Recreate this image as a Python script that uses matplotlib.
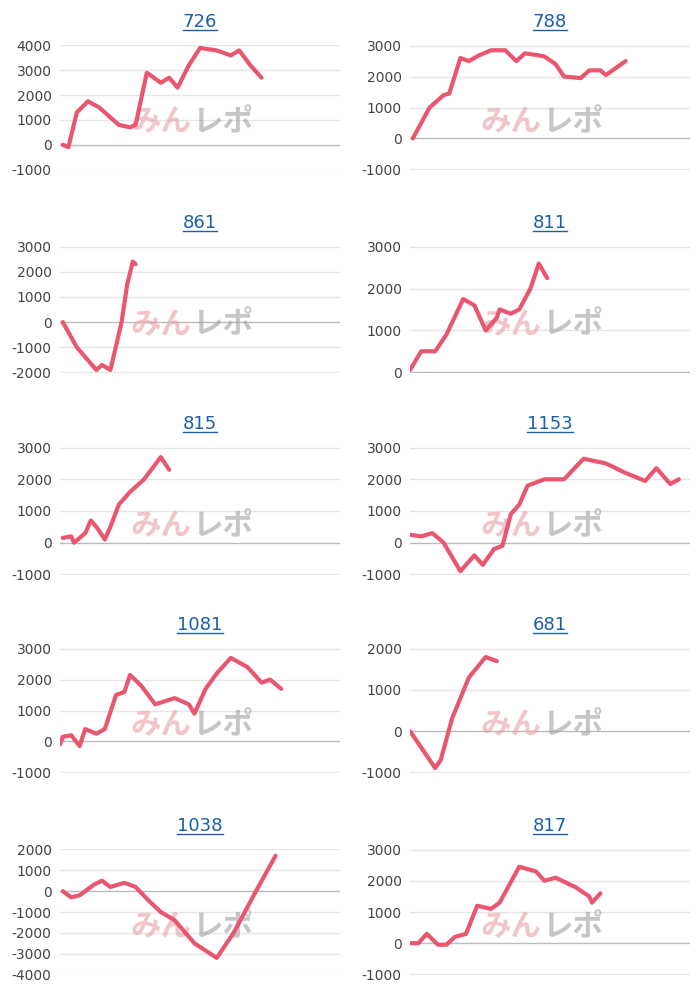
import matplotlib.pyplot as plt

plt.rcParams['font.family'] = ['DejaVu Sans']
plt.rcParams['axes.unicode_minus'] = False

# game index (0-100 scale) and balance values for each panel
titles = ['726', '788', '861', '811', '815', '1153', '1081', '681', '1038', '817']

x726 = [1, 3, 6, 10, 14, 17, 21, 25, 27, 31, 36, 39, 42, 46, 50, 56, 61, 64, 68, 72]
y726 = [0, -100, 1300, 1750, 1500, 1200, 800, 700, 800, 2900, 2500, 2700, 2300, 3200, 3900, 3800, 3600, 3800, 3200, 2700]

x788 = [1, 7, 12, 14, 18, 21, 25, 29, 34, 38, 41, 45, 48, 52, 55, 61, 64, 68, 70, 77]
y788 = [0, 1000, 1400, 1450, 2600, 2500, 2700, 2850, 2850, 2500, 2750, 2700, 2650, 2400, 2000, 1950, 2200, 2200, 2050, 2500]

x861 = [1, 6, 13, 15, 18, 22, 24, 26, 27]
y861 = [0, -1000, -1900, -1700, -1900, 0, 1500, 2400, 2300]

x811 = [0, 4, 9, 13, 19, 23, 27, 31, 32, 36, 39, 43, 46, 49]
y811 = [50, 500, 500, 900, 1750, 1600, 1000, 1300, 1500, 1400, 1500, 2000, 2600, 2250]

x815 = [1, 4, 5, 9, 11, 13, 16, 18, 21, 25, 30, 36, 39]
y815 = [150, 200, 0, 300, 700, 500, 100, 500, 1200, 1600, 2000, 2700, 2300]

x1153 = [0, 4, 8, 12, 18, 23, 26, 30, 33, 36, 39, 42, 48, 55, 62, 70, 77, 84, 88, 93, 96]
y1153 = [250, 200, 300, 0, -900, -400, -700, -200, -100, 900, 1200, 1800, 2000, 2000, 2650, 2500, 2200, 1950, 2350, 1850, 2000]

x1081 = [0, 1, 4, 7, 9, 13, 16, 20, 23, 25, 29, 34, 41, 46, 48, 52, 56, 61, 67, 72, 75, 79]
y1081 = [-100, 150, 200, -150, 400, 250, 400, 1500, 1600, 2150, 1800, 1200, 1400, 1200, 900, 1700, 2200, 2700, 2400, 1900, 2000, 1700]

x681 = [0, 8, 9, 11, 15, 21, 27, 31]
y681 = [0, -800, -900, -700, 300, 1300, 1800, 1700]

x1038 = [1, 4, 7, 12, 15, 18, 23, 27, 32, 36, 41, 48, 56, 62, 70, 77]
y1038 = [0, -300, -200, 300, 500, 200, 400, 200, -500, -1000, -1400, -2500, -3200, -2000, 0, 1700]

x817 = [0, 3, 6, 10, 13, 16, 20, 24, 29, 32, 39, 45, 48, 52, 59, 64, 65, 68]
y817 = [0, 0, 300, -50, -50, 200, 300, 1200, 1100, 1300, 2450, 2300, 2000, 2100, 1800, 1500, 1300, 1600]

xs = [x726, x788, x861, x811, x815, x1153, x1081, x681, x1038, x817]
ys = [y726, y788, y861, y811, y815, y1153, y1081, y681, y1038, y817]
yranges = [(-1000, 4000), (-1000, 3000), (-2000, 3000), (0, 3000), (-1000, 3000),
           (-1000, 3000), (-1000, 3000), (-1000, 2000), (-4000, 2000), (-1000, 3000)]

# axes boxes in pixels: (top, bottom) per row
rows = [(45, 170), (246, 373), (447, 575), (648, 773), (849, 975)]
cols = [(60, 340), (410, 690)]

fig = plt.figure(figsize=(7, 10), dpi=100)
for i in range(10):
    r, c = divmod(i, 2)
    top, bot = rows[r]
    left, right = cols[c]
    ax = fig.add_axes([left / 700, 1 - bot / 1000, (right - left) / 700, (bot - top) / 1000])
    lo, hi = yranges[i]
    ax.set_ylim(lo - 20, hi + 20)
    ax.set_xlim(0, 100)
    ticks = list(range(lo, hi + 1, 1000))
    ax.set_yticks(ticks)
    ax.tick_params(axis='y', length=0, labelsize=10, labelcolor='#444444', pad=6)
    ax.set_xticks([])
    for s in ax.spines.values():
        s.set_visible(False)
    for t in ticks:
        ax.axhline(t, color='#bbbbbb' if t == 0 else '#e6e6e6', lw=1, zorder=0)
    # watermark
    ax.text(0.36, 0.38, 'みん', transform=ax.transAxes, fontsize=22, color='#e8a0a8',
            alpha=0.6, family=['Noto Sans CJK JP'], style='italic', weight='bold',
            ha='center', va='center', zorder=1)
    ax.text(0.58, 0.38, 'レポ', transform=ax.transAxes, fontsize=22, color='#a0a0a0',
            alpha=0.6, family=['Noto Sans CJK JP'], style='italic', weight='bold',
            ha='center', va='center', zorder=1)
    ax.plot(xs[i], ys[i], color='#e8566f', lw=3, solid_capstyle='round', zorder=3)
    ax.set_title(titles[i], fontsize=13, color='#1a5fa8', pad=13)

fig.canvas.draw()
for ax in fig.axes:
    bb = ax.title.get_window_extent()
    y = bb.y0 + 1
    fig.add_artist(plt.Line2D([bb.x0 / 700, bb.x1 / 700], [y / 1000, y / 1000],
                              color='#1a5fa8', lw=1))

fig.savefig('out.png', dpi=100)
